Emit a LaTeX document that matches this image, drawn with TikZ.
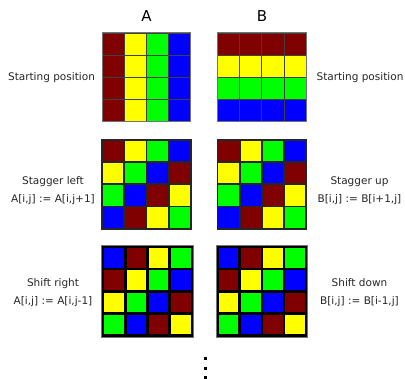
\documentclass[tikz,border=0pt]{standalone}
\usepackage{fontspec}
\setmainfont{DejaVu Sans}
\definecolor{cM}{RGB}{128,0,0}
\definecolor{cY}{RGB}{255,255,0}
\definecolor{cG}{RGB}{0,255,0}
\definecolor{cB}{RGB}{0,0,255}
\def\setcc#1{\ifcase#1\def\cc{cM}\or\def\cc{cY}\or\def\cc{cG}\or\def\cc{cB}\fi}
\tikzset{
  lbl/.style={font=\fontsize{10.5}{18}\selectfont, align=center, text=black!85, inner sep=0pt},
  head/.style={font=\fontsize{15}{18}\selectfont, inner sep=0pt},
  thincell/.style={draw=black!75, line width=0.9pt},
  midcell/.style={draw=black!85, line width=1.8pt},
  thickcell/.style={draw=black, line width=2.6pt},
  outer/.style={draw=black!55, line width=1pt},
  dotbox/.style={fill=black}
}
\begin{document}
\begin{tikzpicture}[x=1pt,y=-1pt]
\useasboundingbox (0,0) rectangle (405,379);
\def\s{22.2}
% headers
\node[head] (hA) at (146.5,16) {A};
\node[head] (hB) at (262,16) {B};
% row 1
\foreach \i in {0,...,3}{
  \foreach \j in {0,...,3}{
    \setcc{\j}
    \filldraw[thincell, fill=\cc] (102+\j*\s,33+\i*\s) rectangle ++(\s,\s);
    \setcc{\i}
    \filldraw[thincell, fill=\cc] (217.5+\j*\s,33+\i*\s) rectangle ++(\s,\s);
  }
}
\draw[outer] (102,33) rectangle ++(4*\s,4*\s);
\draw[outer] (217.5,33) rectangle ++(4*\s,4*\s);
% row 2
\foreach \i in {0,...,3}{
  \foreach \j in {0,...,3}{
    \pgfmathtruncatemacro\k{mod(\i+\j,4)}
    \setcc{\k}
    \filldraw[midcell, fill=\cc] (102+\j*\s,140+\i*\s) rectangle ++(\s,\s);
    \filldraw[midcell, fill=\cc] (217.5+\j*\s,140+\i*\s) rectangle ++(\s,\s);
  }
}
% row 3
\foreach \i in {0,...,3}{
  \foreach \j in {0,...,3}{
    \pgfmathtruncatemacro\k{mod(\i+\j+3,4)}
    \setcc{\k}
    \filldraw[thickcell, fill=\cc] (103+\j*\s,247+\i*\s) rectangle ++(\s,\s);
    \filldraw[thickcell, fill=\cc] (217.5+\j*\s,247+\i*\s) rectangle ++(\s,\s);
  }
}
\draw[outer] (103-1.3,247-1.3) rectangle ++(4*\s+2.6,4*\s+2.6);
\draw[outer] (217.5-1.3,247-1.3) rectangle ++(4*\s+2.6,4*\s+2.6);
% labels
\node[lbl] (l1) at (51.5,78) {Starting position};
\node[lbl] (r1) at (360,78) {Starting position};
\node[lbl] (l2) at (53,191) {Stagger left\\A[i,j] := A[i,j+1]};
\node[lbl] (r2) at (359.5,191) {Stagger up\\B[i,j] := B[i+1,j]};
\node[lbl] (l3) at (53,293) {Shift right\\A[i,j] := A[i,j-1]};
\node[lbl] (r3) at (359.5,293) {Shift down\\B[i,j] := B[i-1,j]};
% dots
\foreach \y in {359,368.5,377.5}{
  \fill[dotbox] (205.5-1.5,\y-1.5) rectangle ++(3,3);
}
\end{tikzpicture}
\end{document}
